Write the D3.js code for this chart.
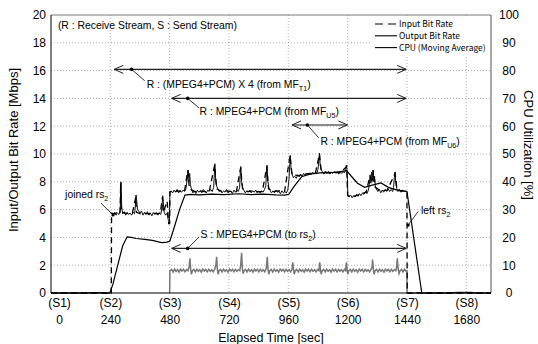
<!DOCTYPE html>
<html>
<head>
<meta charset="utf-8">
<script src="https://cdn.jsdelivr.net/npm/d3@7"></script>
<style>
  body { margin: 0; background: #fff; }
  text { font-family: "Liberation Sans", Arial, sans-serif; fill: #000; }
</style>
</head>
<body>
<svg id="chart" width="538" height="344"></svg>
<script>
// ---- data (time in sec, rates in Mbps, cpu in %) ----
const xMax = 1780
const xTicks = [0, 240, 480, 720, 960, 1200, 1440, 1680]
const stageLabels = ["(S1)", "(S2)", "(S3)", "(S4)", "(S5)", "(S6)", "(S7)", "(S8)"]
const rateTicks = [0, 2, 4, 6, 8, 10, 12, 14, 16, 18, 20]
const cpuTicks = [0, 10, 20, 30, 40, 50, 60, 70, 80, 90, 100]

// output bit rate (receive side), null = gap
const outputRate = [
  [0,0],[120,0],[200,0.04],[215,0],[238,0],[239,null],
  [246,5.7],[251,5.6],[257,5.8],[263,5.6],[269,5.75],[275,5.65],[280,5.9],[283,8.0],[286,6.2],[290,5.7],
  [296,5.85],[302,5.6],[308,5.8],[314,5.65],[320,5.75],[326,5.6],[332,5.8],[338,5.7],[342,6.4],[344,7.05],
  [347,6.6],[350,6.0],[354,5.9],[360,5.75],[366,5.9],[372,5.6],[378,5.8],[384,5.65],[390,5.85],[396,5.6],
  [402,5.75],[408,5.55],[414,5.8],[420,5.65],[426,5.8],[432,5.6],[438,5.75],[444,5.65],[449,6.2],[452,7.0],
  [455,6.4],[458,5.8],[464,5.6],[470,5.75],[475,5.2],[479,5.1],[481,7.2],
  [486,7.35],[492,7.2],[498,7.4],[504,7.25],[510,7.45],[516,7.2],[522,7.35],[528,7.25],[534,7.4],[540,7.3],
  [546,7.5],[551,8.2],[555,8.85],[558,8.0],[561,8.6],[564,7.8],[568,7.5],[574,7.2],[580,7.35],[586,7.15],
  [592,7.4],[598,7.25],[604,7.35],[610,7.2],[616,7.45],[622,7.3],[628,7.2],[634,7.4],[640,7.3],[646,7.45],
  [652,7.3],[658,7.6],[661,8.6],[663,9.3],[666,8.2],[670,7.7],[675,7.5],[680,7.3],[686,7.4],[692,7.2],
  [698,7.35],[704,7.25],[710,7.45],[716,7.2],[722,7.35],[728,7.3],[734,7.15],[740,7.4],[746,7.25],[752,7.4],
  [758,7.3],[763,7.6],[766,8.7],[768,9.1],[771,8.0],[775,7.6],[780,7.4],[786,7.2],[792,7.35],[798,7.25],
  [804,7.4],[810,7.2],[816,7.35],[822,7.25],[828,7.4],[834,7.2],[840,7.3],[846,7.2],[852,7.35],[858,7.25],
  [864,7.45],[869,7.7],[872,8.8],[874,9.2],[877,8.1],[881,7.6],[886,7.4],[892,7.2],[898,7.35],[904,7.2],
  [910,7.4],[916,7.25],[922,7.3],[928,7.15],[934,7.35],[940,7.2],[946,7.3],[952,7.2],[958,7.4],[963,8.2],
  [966,9.3],[968,9.9],[971,9.0],[975,8.6],[980,8.3],
  [986,8.4],[992,8.25],[998,8.5],[1004,8.35],[1010,8.55],[1016,8.4],[1022,8.6],[1028,8.45],[1034,8.6],
  [1040,8.5],[1046,8.65],[1052,8.5],[1058,8.7],[1064,8.55],[1070,8.7],[1076,8.6],[1080,8.9],[1084,9.6],
  [1086,10.05],[1089,9.2],[1093,8.9],[1098,8.7],[1104,8.55],[1110,8.7],[1116,8.6],[1122,8.75],[1128,8.55],
  [1134,8.7],[1140,8.6],[1146,8.75],[1152,8.6],[1158,8.7],[1164,8.55],[1170,8.75],[1176,8.6],[1182,8.7],
  [1188,8.65],[1192,8.9],[1195,9.2],[1198,8.8],[1201,7.0],
  [1206,6.9],[1212,7.05],[1218,6.85],[1224,7.0],[1230,6.9],[1236,7.1],[1242,6.95],[1248,7.15],[1254,7.0],
  [1260,7.2],[1266,7.1],[1272,7.3],[1278,7.15],[1284,7.4],[1288,7.8],[1291,8.5],[1294,7.9],[1297,8.7],
  [1300,8.1],[1303,8.85],[1306,8.0],[1309,8.4],[1312,7.7],[1316,7.5],[1322,7.3],[1328,7.45],[1334,7.2],
  [1340,7.4],[1346,7.25],[1352,7.45],[1358,7.3],[1364,7.5],[1370,7.3],[1376,7.45],[1382,7.3],[1386,7.6],
  [1389,8.3],[1392,8.7],[1395,7.9],[1399,7.5],[1404,7.3],[1410,7.45],[1416,7.25],[1422,7.4],[1428,7.3],
  [1434,7.35],[1439,7.25],[1439.5,null],
  [1446,0],[1600,0],[1640,0.05],[1700,0.05],[1720,0],[1780,0]
]

// input bit rate (dashed)
const inputRate = [
  [0,0],[244,0],[245,5.75],[256,5.7],[268,5.8],[279,5.7],[282,7.9],[285,5.8],[300,5.75],[315,5.7],[330,5.8],
  [343,6.9],[346,5.8],[362,5.7],[378,5.75],[394,5.7],[410,5.8],[426,5.7],[442,5.75],[451,6.9],[454,5.8],
  [470,6.6],[476,5.0],[480,5.0],[481,7.3],[500,7.3],[520,7.35],[540,7.3],[553,8.8],[560,7.5],[580,7.3],
  [600,7.35],[620,7.3],[640,7.3],[662,9.2],[670,7.5],[690,7.3],[710,7.35],[730,7.3],[750,7.3],[767,9.0],
  [775,7.5],[795,7.3],[815,7.35],[835,7.3],[855,7.3],[873,9.1],[880,7.5],[900,7.3],[920,7.35],[945,7.3],
  [967,9.9],[975,8.5],[1000,8.45],[1025,8.55],[1050,8.6],[1070,8.65],[1086,10.0],[1093,8.8],[1120,8.65],
  [1145,8.7],[1170,8.65],[1196,9.1],[1200,7.0],[1225,6.95],[1250,7.1],[1275,7.25],[1290,8.4],[1298,8.1],
  [1304,8.8],[1312,7.6],[1335,7.35],[1360,7.4],[1392,8.6],[1400,7.4],[1420,7.35],[1440,7.3],[1441,0],[1780,0]
]

// send stream to rs2 (grey)
const sendRate = [
  [480,0],[481,1.6],[488,1.7],[494,1.5],[500,1.72],[506,1.55],[512,1.68],[518,1.5],[524,1.72],[530,1.58],
  [536,1.7],[542,1.52],[548,1.68],[554,1.6],[559,1.9],[562,2.5],[565,1.7],[568,1.35],[572,1.6],[578,1.7],
  [584,1.52],[590,1.72],[596,1.56],[602,1.68],[608,1.5],[614,1.72],[620,1.58],[626,1.7],[632,1.52],[638,1.7],
  [644,1.56],[650,1.68],[656,1.52],[662,1.7],[667,2.0],[670,2.6],[673,1.7],[676,1.35],[680,1.6],[686,1.7],
  [692,1.52],[698,1.72],[704,1.56],[710,1.68],[716,1.5],[722,1.72],[728,1.58],[734,1.7],[740,1.52],[746,1.7],
  [752,1.56],[758,1.68],[764,1.6],[768,2.1],[771,2.9],[774,1.8],[777,1.4],[781,1.6],[787,1.7],[793,1.52],
  [799,1.72],[805,1.56],[811,1.68],[817,1.5],[823,1.72],[829,1.58],[835,1.7],[841,1.52],[847,1.7],[853,1.56],
  [859,1.68],[865,1.52],[871,1.8],[875,2.6],[878,1.7],[881,1.35],[885,1.6],[891,1.7],[897,1.52],[903,1.72],
  [909,1.56],[915,1.68],[921,1.5],[927,1.72],[933,1.58],[939,1.7],[945,1.52],[951,1.7],[957,1.56],[963,1.68],
  [969,1.52],[975,1.7],[978,2.2],[981,1.7],[984,1.35],[988,1.6],[994,1.7],[1000,1.52],[1006,1.72],[1012,1.56],
  [1018,1.68],[1024,1.5],[1030,1.72],[1036,1.58],[1042,1.7],[1048,1.52],[1054,1.7],[1060,1.56],[1066,1.68],
  [1072,1.52],[1078,1.7],[1084,1.6],[1087,2.2],[1090,1.7],[1093,1.35],[1097,1.6],[1103,1.7],[1109,1.52],
  [1115,1.72],[1121,1.56],[1127,1.68],[1133,1.5],[1139,1.72],[1145,1.58],[1151,1.7],[1157,1.52],[1163,1.7],
  [1169,1.56],[1175,1.68],[1181,1.52],[1187,1.7],[1192,1.6],[1195,2.2],[1198,1.7],[1201,1.35],[1205,1.6],
  [1211,1.7],[1217,1.52],[1223,1.72],[1229,1.56],[1235,1.68],[1241,1.5],[1247,1.72],[1253,1.58],[1259,1.7],
  [1265,1.52],[1271,1.7],[1277,1.56],[1283,1.68],[1289,1.52],[1295,1.7],[1299,1.9],[1301,2.4],[1304,1.7],
  [1307,1.35],[1311,1.6],[1317,1.7],[1323,1.52],[1329,1.72],[1335,1.56],[1341,1.68],[1347,1.5],[1353,1.72],
  [1359,1.58],[1365,1.7],[1371,1.52],[1377,1.7],[1383,1.56],[1389,1.68],[1395,1.6],[1398,1.9],[1401,2.5],
  [1404,1.8],[1408,1.4],[1412,1.6],[1418,1.7],[1424,1.52],[1430,1.72],[1436,1.58],[1440,1.6],[1440.5,0]
]

// CPU utilization, moving average (%)
const cpuAvg = [
  [0,0],[238,0],[250,3],[270,10],[290,17],[308,20.2],[325,20],[345,19.6],[380,19.3],[410,18.9],[448,18.1],
  [470,18.3],[481,18.7],[500,24],[520,30],[542,35.2],[565,35.5],[600,35.3],[650,35.6],[700,35.4],[760,35.7],
  [810,35.4],[860,35.6],[910,35.3],[945,35.2],[962,35.5],[985,38.5],[1014,41.8],[1050,42.8],[1088,43.2],
  [1150,43.4],[1196,44],[1215,42],[1240,39.5],[1269,38],[1300,38.8],[1335,39.6],[1365,38],[1400,37],
  [1440,36.5],[1500,0],[1780,0]
]

// stream spans (sec) at a rate level (Mbps), dot = pointer anchor
const spans = [
  { t0: 256, t1: 1437, v: 16.09, dot: 326, grey: false },
  { t0: 488, t1: 1437, v: 14.0, dot: 553, grey: false },
  { t0: 975, t1: 1199, v: 12.09, dot: 1037, grey: true },
  { t0: 488, t1: 1437, v: 3.21, dot: 553, grey: false }
]
// labels: text, subscript, tail; pointer from (pt,pv) to (qt,qv)
const notes = [
  { t: 387, v: 14.75, text: "R : (MPEG4+PCM) X 4 (from MF", sub: "T1", tail: ")", pt: 326, pv: 16.09, qt: 379, qv: 15.27, dot: false },
  { t: 601, v: 12.81, text: "R : MPEG4+PCM (from MF", sub: "U5", tail: ")", pt: 553, pv: 14.0, qt: 599, qv: 13.31, dot: false },
  { t: 1090, v: 10.65, text: "R : MPEG4+PCM (from MF", sub: "U6", tail: ")", pt: 1037, pv: 12.09, qt: 1083, qv: 11.17, dot: false },
  { t: 605, v: 3.96, text: "S : MPEG4+PCM (to rs", sub: "2", tail: ")", pt: 553, pv: 3.21, qt: 599, qv: 4.03, dot: false },
  { t: 57, v: 6.83, text: "joined rs", sub: "2", tail: "", pt: 251, pv: 5.61, qt: 202, qv: 6.47, dot: true },
  { t: 1497, v: 5.68, text: "left rs", sub: "2", tail: "", pt: 1445, pv: 4.89, qt: 1485, qv: 5.86, dot: true }
]
const headNote = { t: 28, v: 19.0, text: "(R : Receive Stream, S : Send Stream)" }
const legendItems = ["Input Bit Rate", "Output Bit Rate", "CPU (Moving Average)"]

// ---- layout ----
const W = 538, H = 344
const M = { top: 15, right: 47, bottom: 51, left: 51 }
const noteSize = 10.4
const svg = d3.select("#chart")

const x = d3.scaleLinear().domain([0, xMax]).range([M.left, W - M.right])
const yL = d3.scaleLinear().domain([0, 20]).range([H - M.bottom, M.top])
const yR = d3.scaleLinear().domain([0, 100]).range([H - M.bottom, M.top])

// grid
const grid = svg.append("g").attr("stroke", "#9a9a9a").attr("stroke-dasharray", "1,2").attr("stroke-width", 0.8)
grid.selectAll(".gx").data(xTicks.slice(1)).join("line")
    .attr("x1", d => x(d)).attr("x2", d => x(d))
    .attr("y1", M.top).attr("y2", H - M.bottom)
grid.selectAll(".gy").data(rateTicks.slice(1, -1)).join("line")
    .attr("x1", M.left).attr("x2", W - M.right)
    .attr("y1", d => yL(d)).attr("y2", d => yL(d))

// legend box covers the grid
svg.append("rect").attr("x", 370).attr("y", M.top + 1).attr("width", W - M.right - 371).attr("height", 39).attr("fill", "#fff")

// series
const rateLine = d3.line().defined(d => d[1] !== null).x(d => x(d[0])).y(d => yL(d[1]))
const cpuLine = d3.line().x(d => x(d[0])).y(d => yR(d[1]))

svg.append("path").datum(sendRate).attr("d", rateLine)
    .attr("fill", "none").attr("stroke", "#777").attr("stroke-width", 1.5)
svg.append("path").datum(outputRate).attr("d", rateLine)
    .attr("fill", "none").attr("stroke", "#111").attr("stroke-width", 1)
svg.append("path").datum(inputRate).attr("d", rateLine)
    .attr("fill", "none").attr("stroke", "#000").attr("stroke-width", 1.3).attr("stroke-dasharray", "6,4")
svg.append("path").datum(cpuAvg).attr("d", cpuLine)
    .attr("fill", "none").attr("stroke", "#000").attr("stroke-width", 1.2)

// frame
svg.append("line").attr("x1", M.left).attr("x2", W - M.right).attr("y1", M.top).attr("y2", M.top).attr("stroke", "#777")
svg.append("line").attr("x1", W - M.right).attr("x2", W - M.right).attr("y1", M.top).attr("y2", H - M.bottom).attr("stroke", "#555")
svg.append("line").attr("x1", M.left).attr("x2", M.left).attr("y1", M.top).attr("y2", H - M.bottom).attr("stroke", "#000")
svg.append("line").attr("x1", M.left).attr("x2", W - M.right).attr("y1", H - M.bottom).attr("y2", H - M.bottom).attr("stroke", "#000")

// spans with open arrow heads
spans.forEach(s => {
    const g = svg.append("g").attr("fill", "none")
        .attr("stroke", s.grey ? "#888" : "#222").attr("stroke-width", s.grey ? 2 : 1.2)
    const y0 = yL(s.v), a = x(s.t0), b = x(s.t1)
    g.append("line").attr("x1", a).attr("x2", b).attr("y1", y0).attr("y2", y0)
    g.append("path").attr("stroke-width", 1).attr("stroke", "#222")
        .attr("d", `M${a + 9},${y0 - 4}L${a},${y0}L${a + 9},${y0 + 4}`)
    g.append("path").attr("stroke-width", 1).attr("stroke", "#222")
        .attr("d", `M${b - 9},${y0 - 4}L${b},${y0}L${b - 9},${y0 + 4}`)
    svg.append("circle").attr("cx", x(s.dot)).attr("cy", y0).attr("r", 1.8).attr("fill", "#000")
})

// labels + pointers
notes.forEach(n => {
    svg.append("line").attr("x1", x(n.pt)).attr("y1", yL(n.pv)).attr("x2", x(n.qt)).attr("y2", yL(n.qv))
        .attr("stroke", "#000").attr("stroke-width", 0.8)
    if (n.dot) svg.append("circle").attr("cx", x(n.pt)).attr("cy", yL(n.pv)).attr("r", 1.6).attr("fill", "#000")
    const t = svg.append("text").attr("x", x(n.t)).attr("y", yL(n.v)).attr("font-size", noteSize)
    t.append("tspan").text(n.text)
    t.append("tspan").attr("font-size", 7.2).attr("dy", 3).text(n.sub)
    if (n.tail) t.append("tspan").attr("dy", -3).text(n.tail)
})
svg.append("text").attr("x", x(headNote.t)).attr("y", yL(headNote.v)).attr("font-size", noteSize).text(headNote.text)

// legend
const lg = svg.append("g").attr("transform", "translate(375,24)")
legendItems.forEach((name, i) => {
    const yy = i * 11.8
    lg.append("line").attr("x1", 0).attr("x2", 22).attr("y1", yy).attr("y2", yy)
        .attr("stroke", "#000").attr("stroke-width", 1.1)
        .attr("stroke-dasharray", i === 0 ? "8,5" : null)
    lg.append("text").attr("x", 24).attr("y", yy + 3).attr("font-size", 8.5)
        .style("font-family", "'Noto Sans CJK JP', 'DejaVu Sans', sans-serif").text(name)
})

// axes
const axL = svg.append("g").attr("transform", `translate(${M.left},0)`)
    .call(d3.axisLeft(yL).tickValues(rateTicks).tickSize(0).tickPadding(5))
const axR = svg.append("g").attr("transform", `translate(${W - M.right},0)`)
    .call(d3.axisRight(yR).tickValues(cpuTicks).tickSize(0).tickPadding(18))
axR.selectAll("text").attr("text-anchor", "middle")
const axB = svg.append("g").attr("transform", `translate(0,${H - M.bottom})`)
    .call(d3.axisBottom(x).tickValues(xTicks).tickSize(0).tickPadding(22.5).tickFormat(d3.format("d")))
axB.selectAll(".tick").append("text")
    .attr("y", 5.5).attr("dy", "0.71em").attr("fill", "#000")
    .text((d, i) => stageLabels[i])
// the first column sits a little right of the axis line
axB.selectAll(".tick text").attr("x", d => d === 0 ? 8 : 0)
;[axL, axR, axB].forEach(a => {
    a.select(".domain").remove()
    a.selectAll("text").attr("font-size", 12).attr("font-family", "'Liberation Sans', Arial, sans-serif").attr("fill", "#000")
})

// axis titles
svg.append("text").attr("transform", "translate(18,150) rotate(-90)").attr("text-anchor", "middle")
    .attr("font-size", 13).text("Input/Output Bit Rate [Mbps]")
svg.append("text").attr("transform", "translate(524,145) rotate(90)").attr("text-anchor", "middle")
    .attr("font-size", 13).text("CPU Utilization [%]")
svg.append("text").attr("x", (M.left + W - M.right) / 2).attr("y", 342).attr("text-anchor", "middle")
    .attr("font-size", 12.5).text("Elapsed Time [sec]")
</script>
</body>
</html>
